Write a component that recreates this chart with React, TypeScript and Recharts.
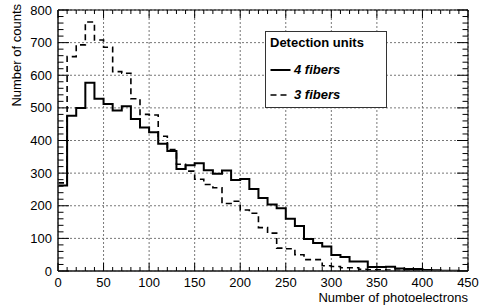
import React from 'react';
import { LineChart, Line, XAxis, YAxis, CartesianGrid, Legend, ReferenceArea } from 'recharts';

// lower bin edges (bin width 10 photoelectrons)
const BIN_EDGES = [
  0, 10, 20, 30, 40, 50, 60, 70, 80, 90, 100, 110, 120, 130, 140, 150, 160, 170, 180, 190, 200, 210,
  220, 230, 240, 250, 260, 270, 280, 290, 300, 310, 320, 330, 340, 350, 360, 370, 380, 390, 400, 410,
  420, 430, 440,
];
const FOUR_FIBERS = [
  262, 476, 500, 577, 528, 512, 492, 505, 466, 440, 425, 390, 368, 313, 324, 330, 309, 298, 308, 279, 282, 251,
  224, 204, 192, 160, 138, 98, 86, 75, 49, 43, 29, 29, 12, 12, 13, 8, 6, 6, 3, 2,
  1, 1, 0,
];
const THREE_FIBERS = [
  270, 657, 693, 763, 708, 686, 611, 606, 528, 480, 478, 413, 372, 327, 306, 281, 265, 255, 207, 214, 187, 177,
  133, 116, 70, 68, 50, 35, 35, 16, 14, 10, 10, 5, 4, 4, 3, 2, 1, 1, 0, 0,
  0, 0, 0,
];
const X_LABELS = [0, 50, 100, 150, 200, 250, 300, 350, 400, 450];
const Y_LABELS = [0, 100, 200, 300, 400, 500, 600, 700, 800];

const X_MAX = 450;
const Y_MAX = 800;

const W = 483;
const H = 308;
const TOP = 10;
const BOTTOM = 271;
const LEFT = 58;
const RIGHT = 468;
const FONT = '"Liberation Sans", Arial, Helvetica, sans-serif';

const xTicks = Array.from({ length: X_MAX / 10 + 1 }, (_, i) => i * 10);
const yTicks = Array.from({ length: Y_MAX / 20 + 1 }, (_, i) => i * 20);

// step histogram: one point per lower edge plus closing point at the last upper edge
const data = BIN_EDGES.map((x, i) => ({ x, four: FOUR_FIBERS[i], three: THREE_FIBERS[i] }));
data.push({ x: X_MAX, four: FOUR_FIBERS[FOUR_FIBERS.length - 1], three: THREE_FIBERS[THREE_FIBERS.length - 1] });

function XTick(props: any) {
  const { x, payload } = props;
  const v = payload.value;
  const major = v % 50 === 0;
  const len = major ? 8 : 4;
  return (
    <g>
      <line x1={x} x2={x} y1={BOTTOM} y2={BOTTOM - len} stroke="#000" />
      <line x1={x} x2={x} y1={TOP} y2={TOP + len} stroke="#000" />
      {major && (
        <text x={x} y={286.5} textAnchor="middle" fontSize={13} fontFamily={FONT} fill="#000">
          {v}
        </text>
      )}
    </g>
  );
}

function YTick(props: any) {
  const { y, payload } = props;
  const v = payload.value;
  const major = v % 100 === 0;
  const len = major ? 11 : 5.5;
  return (
    <g>
      <line x1={LEFT} x2={LEFT + len} y1={y} y2={y} stroke="#000" />
      <line x1={RIGHT} x2={RIGHT - len} y1={y} y2={y} stroke="#000" />
      {major && (
        <text x={52} y={y + 4.5} textAnchor="end" fontSize={13} fontFamily={FONT} fill="#000">
          {v}
        </text>
      )}
    </g>
  );
}

function LegendBox() {
  const row = (label: string, dash?: string) => (
    <div style={{ display: 'flex', alignItems: 'center', height: 25 }}>
      <svg width={24} height={10} style={{ marginLeft: 4 }}>
        <line x1={0.5} x2={20.5} y1={5} y2={5} stroke="#000" strokeWidth={dash ? 1.6 : 2} strokeDasharray={dash} />
      </svg>
      <span style={{ fontWeight: 'bold', fontStyle: 'italic', fontSize: 13 }}>{label}</span>
    </div>
  );
  return (
    <div
      style={{
        width: 120,
        height: 75,
        border: '1px solid #333',
        background: '#fff',
        fontFamily: FONT,
        color: '#000',
        boxSizing: 'content-box',
      }}
    >
      <div style={{ fontWeight: 'bold', fontSize: 13, padding: '3px 0 0 4px', height: 22 }}>Detection units</div>
      {row('4 fibers')}
      {row('3 fibers', '6 4')}
    </div>
  );
}

export default function App() {
  return (
    <div style={{ position: 'absolute', left: 0, top: 0, width: W, height: H, background: '#fff' }}>
      <LineChart width={W} height={H} data={data} margin={{ top: TOP, right: W - RIGHT, bottom: 0, left: 0 }}>
        <CartesianGrid
          stroke="#777"
          strokeDasharray="2 2"
          horizontalValues={Y_LABELS}
          verticalValues={X_LABELS}
        />
        <XAxis
          dataKey="x"
          type="number"
          domain={[0, X_MAX]}
          ticks={xTicks}
          interval={0}
          tickLine={false}
          axisLine={{ stroke: '#444', strokeWidth: 1.5 }}
          tick={XTick}
          height={H - BOTTOM}
          allowDataOverflow
        />
        <YAxis
          type="number"
          domain={[0, Y_MAX]}
          ticks={yTicks}
          interval={0}
          tickLine={false}
          axisLine={{ stroke: '#444', strokeWidth: 1.5 }}
          tick={YTick}
          width={LEFT}
          allowDataOverflow
        />
        <Line
          type="stepAfter"
          dataKey="three"
          stroke="#000"
          strokeWidth={1.6}
          strokeDasharray="6 4"
          dot={false}
          isAnimationActive={false}
        />
        <Line type="stepAfter" dataKey="four" stroke="#000" strokeWidth={2} dot={false} isAnimationActive={false} />
        <ReferenceArea x1={0} x2={X_MAX} y1={0} y2={Y_MAX} fill="none" stroke="#000" strokeWidth={1} />
        <Legend
          layout="vertical"
          align="center"
          verticalAlign="middle"
          content={<LegendBox />}
          wrapperStyle={{ position: 'absolute', left: 265, top: 31, width: 122, height: 77 }}
        />
        <text x={RIGHT} y={302} textAnchor="end" fontSize={13} fontFamily={FONT} fill="#000">
          Number of photoelectrons
        </text>
        <text
          x={21}
          y={4}
          transform="rotate(-90, 21, 4)"
          textAnchor="end"
          fontSize={13}
          fontFamily={FONT}
          fill="#000"
        >
          Number of counts
        </text>
      </LineChart>
    </div>
  );
}
